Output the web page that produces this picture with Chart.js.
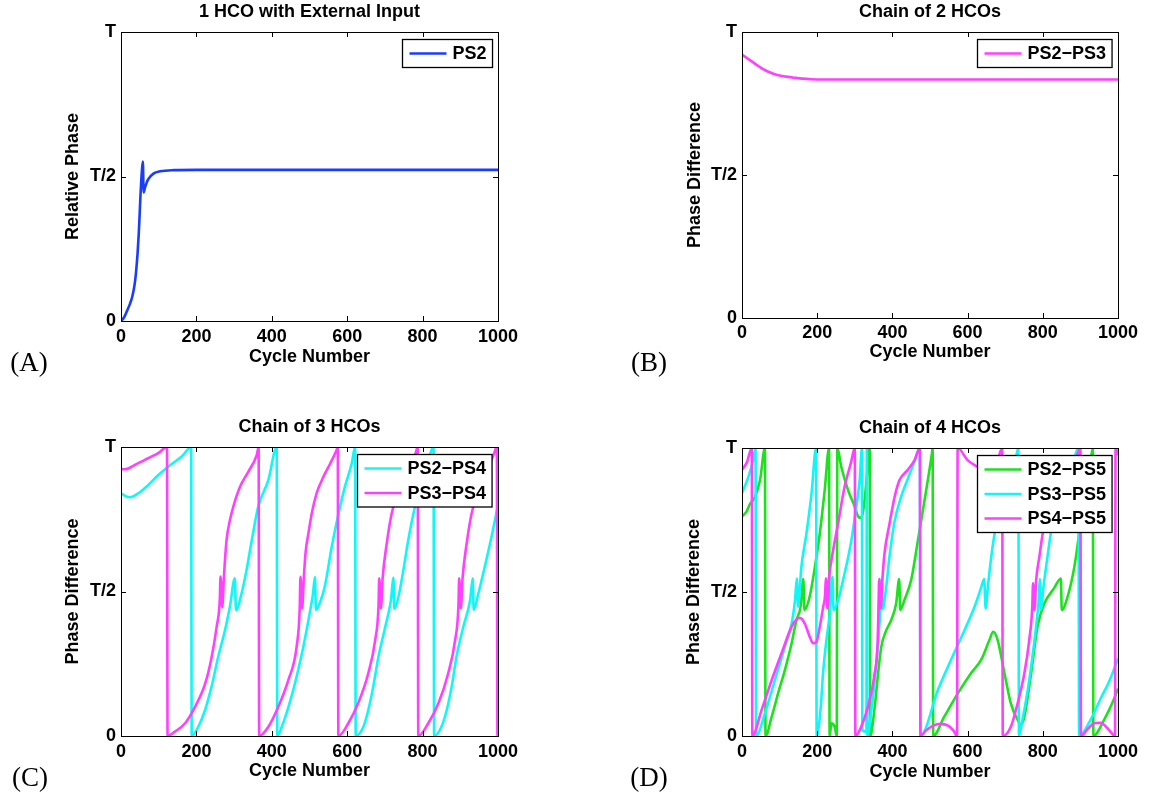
<!DOCTYPE html>
<html>
<head>
<meta charset="utf-8">
<script src="https://cdn.jsdelivr.net/npm/chart.js@4.4.1/dist/chart.umd.min.js"></script>
<style>
  body { margin: 0; background: #fff; width: 1153px; height: 794px; position: relative; overflow: hidden; }
  .panel { position: absolute; }
  .tag { position: absolute; font-family: "Liberation Serif", "DejaVu Serif", serif; font-size: 27px; line-height: 1; transform: translate(-50%, -50%); color: #000; }
</style>
</head>
<body>
<div class="panel" style="left:0;top:0;width:576px;height:397px"><canvas id="chA"></canvas></div>
<div class="panel" style="left:576px;top:0;width:577px;height:397px"><canvas id="chB"></canvas></div>
<div class="panel" style="left:0;top:397px;width:576px;height:397px"><canvas id="chC"></canvas></div>
<div class="panel" style="left:576px;top:397px;width:577px;height:397px"><canvas id="chD"></canvas></div>
<div class="tag" style="left:29px;top:362px">(A)</div>
<div class="tag" style="left:649px;top:362px">(B)</div>
<div class="tag" style="left:30px;top:777px">(C)</div>
<div class="tag" style="left:649px;top:777px">(D)</div>
<script>
// x = cycle number, y = phase as a fraction of the period T
const xTicks = [0, 200, 400, 600, 800, 1000];
const yTickVals = [0, 0.5, 1];
const yTickLabels = ['0', 'T/2', 'T'];

const aPS2 = [[0,0],[8,0.012],[16,0.035],[24,0.06],[30,0.085],[36,0.125],[40,0.17],[44,0.235],[47,0.3],[49.5,0.37],[51.5,0.43],[53.5,0.48],[55.5,0.52],[58,0.552],[60,0.445],[64,0.463],[72,0.49],[86,0.51],[104,0.518],[140,0.522],[200,0.523],[1000,0.523]];

const bPS2PS3 = [[0,0.921],[12,0.91],[24,0.899],[40,0.884],[55,0.871],[70,0.861],[85,0.853],[100,0.848],[122,0.843],[140,0.84],[161,0.837],[185,0.835],[210,0.834],[1000,0.834]];

const cPS2PS4 = [[0,0.84],[12,0.83],[24,0.826],[46,0.84],[72,0.868],[99,0.903],[125,0.932],[161,0.967],[186,0.999],[187.5,0],[205,0.032],[223,0.09],[240,0.17],[258,0.275],[276,0.367],[289,0.448],[302,0.546],[305,0.436],[320,0.494],[333,0.574],[347,0.678],[364,0.794],[391,0.886],[413,0.999],[414.5,0],[426,0.03],[444,0.1],[461,0.18],[479,0.28],[497,0.4],[509,0.49],[514.5,0.55],[517,0.437],[530,0.47],[541,0.52],[559,0.655],[577,0.77],[594,0.863],[612,0.943],[621,1],[622.5,0],[643,0.032],[656,0.09],[669,0.17],[683,0.275],[701,0.378],[716,0.47],[722.5,0.548],[725,0.44],[736,0.482],[749,0.574],[762,0.678],[780,0.794],[806,0.897],[829,1],[830.5,0],[850,0.032],[864,0.09],[877,0.17],[890,0.275],[908,0.378],[926,0.47],[933,0.546],[935.5,0.436],[948,0.494],[965,0.586],[983,0.69],[1000,0.8]];
const cPS3PS4 = [[0,0.923],[11,0.923],[37,0.938],[72,0.961],[100,0.98],[122,1],[123.5,0],[143,0.015],[170,0.044],[196,0.1],[223,0.18],[240,0.27],[254,0.38],[262,0.47],[264,0.552],[268.5,0.446],[273,0.552],[280,0.678],[289,0.747],[298,0.794],[316,0.863],[338,0.915],[360,0.972],[365,1],[366.5,0],[391,0.032],[417,0.1],[444,0.194],[466,0.31],[474,0.44],[476,0.551],[480.5,0.442],[485,0.55],[490,0.64],[497,0.7],[506,0.77],[519,0.84],[537,0.897],[555,0.943],[572,0.99],[575,1],[576.5,0],[603,0.044],[629,0.113],[656,0.217],[674,0.33],[683,0.448],[685,0.546],[689.5,0.442],[694,0.546],[705,0.667],[718,0.77],[736,0.851],[758,0.915],[780,0.972],[787,1],[788.5,0],[815,0.044],[842,0.113],[868,0.217],[886,0.33],[895,0.448],[897,0.546],[901.5,0.442],[906,0.546],[917,0.667],[930,0.77],[948,0.851],[970,0.915],[988,0.972],[997,1],[998.5,0],[1000,0.012]];

const dPS2PS5 = [[0,0.762],[12,0.779],[21,0.805],[34.5,0.83],[48,0.889],[61,1],[62.5,0],[79,0.067],[96,0.148],[114,0.229],[132,0.322],[145,0.403],[156,0.45],[163,0.545],[166,0.4375],[180,0.484],[194,0.588],[207,0.704],[220,0.854],[231.5,1],[233,0],[238,0.044],[246.5,0.032],[252,0],[253.5,1],[264,0.935],[282,0.854],[300,0.796],[310,0.76],[316,0.758],[322,0.779],[330.5,0.877],[339.5,1],[341,0],[353,0.102],[362,0.218],[370.5,0.31],[384,0.368],[397,0.403],[410,0.46],[418,0.545],[421,0.4375],[432,0.472],[450,0.542],[468,0.68],[490,0.854],[505,0.98],[507,1],[508.5,0],[538,0.067],[574,0.148],[609,0.218],[636,0.264],[658,0.333],[668,0.362],[680,0.333],[698,0.218],[715,0.113],[733,0.056],[742,0.04],[751,0.067],[769,0.218],[786,0.38],[804,0.46],[830,0.513],[848,0.547],[850.5,0.4375],[866,0.484],[884,0.588],[897,0.704],[912,0.83],[926,0.94],[933,1],[934.5,0],[963,0.056],[990,0.13],[1000,0.165]];
const dPS3PS5 = [[0,0.843],[17,0.9],[30,0.96],[36,1],[37.5,0],[61,0.079],[87.5,0.194],[114,0.31],[132,0.39],[141,0.472],[146,0.547],[149,0.449],[158,0.588],[171.5,0.704],[185,0.843],[197,1],[198.5,0],[209.5,0.102],[215.5,0.218],[224.5,0.333],[233.5,0.426],[240.5,0.553],[243.5,0.4375],[255.5,0.472],[273,0.565],[291,0.68],[304,0.796],[313,0.889],[319,1],[320,0.02],[331,0.015],[332,1],[333.5,0],[345,0.1],[355,0.22],[362,0.33],[368,0.44],[371,0.545],[374,0.44],[382,0.5],[392,0.62],[405,0.74],[423,0.83],[440,0.89],[458,0.95],[473,1],[474.5,0],[521,0.16],[556,0.265],[592,0.368],[618.5,0.449],[636,0.515],[644,0.545],[648,0.443],[654,0.52],[663,0.623],[672,0.704],[690,0.8],[710,0.88],[725,0.94],[735,1],[736.5,0],[745,0.05],[760,0.16],[772,0.27],[782,0.38],[789,0.47],[792,0.545],[795,0.44],[802,0.52],[812.5,0.623],[821.5,0.704],[840,0.8],[860,0.88],[880,0.95],[895,1],[896.5,0],[927,0.056],[954,0.13],[980,0.2],[1000,0.27]];
const dPS4PS5 = [[0,0.924],[13,0.95],[26,1],[27.5,0],[52,0.09],[79,0.194],[105,0.287],[132,0.38],[145,0.405],[154,0.41],[167,0.39],[180,0.345],[189,0.322],[198,0.327],[207,0.38],[216,0.449],[221,0.49],[223,0.548],[227,0.443],[231,0.542],[238,0.611],[255.5,0.738],[273,0.866],[290,0.95],[300,1],[301.5,0],[317,0.032],[335,0.102],[353,0.218],[361,0.333],[363,0.449],[365,0.545],[369,0.443],[373,0.536],[379,0.634],[392.5,0.738],[406,0.831],[419,0.889],[441,0.924],[459,0.958],[473,1],[474.5,0],[490,0.02],[510,0.037],[528,0.042],[548,0.036],[563,0.018],[572,0],[573.5,1],[600,0.958],[626,0.935],[645,0.92],[662,0.925],[678,0.95],[692,1],[693.5,0],[715,0.032],[733,0.113],[751,0.218],[764,0.333],[772,0.449],[774,0.53],[778,0.4375],[782,0.536],[791,0.623],[800,0.704],[820,0.8],[845,0.87],[870,0.92],[890,0.97],[900,1],[901.5,0],[920,0.025],[936,0.044],[954,0.046],[976,0.021],[992,0],[993.5,1],[1000,0.975]];

const BLUE = 'rgb(25,60,255)';
const MAGENTA = 'rgb(255,64,255)';
const CYAN = 'rgb(20,245,245)';
const GREEN = 'rgb(30,225,30)';

const FONT = '"Liberation Sans", Arial, sans-serif';
const FS = 18;
const LH = FS * 1.2;

Chart.defaults.color = '#000';
Chart.defaults.font.family = FONT;
Chart.defaults.font.size = FS;
Chart.defaults.font.weight = 'bold';

// box, inward ticks and a matlab-style legend
const framePlugin = {
  id: 'frame',
  afterDraw(chart) {
    const { ctx, chartArea: a, scales: { x, y } } = chart;
    ctx.save();
    ctx.strokeStyle = '#000';
    ctx.lineWidth = 1;
    ctx.strokeRect(Math.round(a.left) + 0.5, Math.round(a.top) + 0.5, Math.round(a.right - a.left), Math.round(a.bottom - a.top));
    ctx.beginPath();
    x.ticks.forEach(t => {
      const px = Math.round(x.getPixelForValue(t.value)) + 0.5;
      ctx.moveTo(px, a.bottom); ctx.lineTo(px, a.bottom - 5);
      ctx.moveTo(px, a.top); ctx.lineTo(px, a.top + 5);
    });
    y.ticks.forEach(t => {
      const py = Math.round(y.getPixelForValue(t.value)) + 0.5;
      ctx.moveTo(a.left, py); ctx.lineTo(a.left + 5, py);
      ctx.moveTo(a.right, py); ctx.lineTo(a.right - 5, py);
    });
    ctx.stroke();

    const sets = chart.data.datasets;
    ctx.font = 'bold ' + FS + 'px ' + FONT;
    const tw = Math.max(...sets.map(d => ctx.measureText(d.label).width));
    const w = 7 + 37 + 6 + tw + 6;
    const h = sets.length * 24.5 + 3.5;
    const x0 = Math.round(a.right - 6 - w) + 0.5;
    const y0 = Math.round(a.top + 7) + 0.5;
    ctx.fillStyle = '#fff';
    ctx.fillRect(x0, y0, w, h);
    ctx.lineWidth = 1.3;
    ctx.strokeRect(x0, y0, w, h);
    sets.forEach((d, i) => {
      const ly = y0 + 14 + i * 24.5;
      ctx.strokeStyle = d.borderColor;
      ctx.lineWidth = 2.6;
      ctx.beginPath();
      ctx.moveTo(x0 + 7, ly); ctx.lineTo(x0 + 44, ly);
      ctx.stroke();
      ctx.fillStyle = '#000';
      ctx.textBaseline = 'middle';
      ctx.textAlign = 'left';
      ctx.fillText(d.label, x0 + 50, ly + 1);
    });
    ctx.restore();
  }
};

function makePanel(id, g) {
  const n = g.series.length;
  const datasets = g.series.map((s, i) => ({
    label: s.label,
    data: s.data.map(p => ({ x: p[0], y: p[1] })),
    borderColor: s.color,
    borderWidth: 2.6,
    pointRadius: 0,
    cubicInterpolationMode: 'monotone',
    order: n - 1 - i
  }));
  new Chart(document.getElementById(id), {
    type: 'line',
    data: { datasets },
    options: {
      responsive: true,
      maintainAspectRatio: false,
      animation: false,
      layout: { padding: { left: 0, top: 0, right: g.w - g.right, bottom: g.h - (g.xTitleY + LH / 2) } },
      plugins: {
        legend: { display: false },
        tooltip: { enabled: false },
        title: {
          display: true,
          text: g.title,
          fullSize: false,
          font: { size: FS, weight: 'bold' },
          padding: { top: g.titleY - LH / 2, bottom: g.top - LH - (g.titleY - LH / 2) }
        }
      },
      scales: {
        x: {
          type: 'linear',
          min: 0, max: 1000,
          afterBuildTicks: s => { s.ticks = xTicks.map(v => ({ value: v })); },
          grid: { display: false, drawTicks: false },
          border: { display: false },
          ticks: { padding: g.xTickY - g.bottom - LH / 2, maxRotation: 0, callback: v => String(v) },
          title: { display: true, text: 'Cycle Number', padding: 0 },
          afterFit: s => { s.height = g.xTitleY + LH / 2 - g.bottom; }
        },
        y: {
          min: 0, max: 1,
          afterBuildTicks: s => { s.ticks = yTickVals.map(v => ({ value: v })); },
          grid: { display: false, drawTicks: false },
          border: { display: false },
          ticks: { padding: 5, callback: v => yTickLabels[yTickVals.indexOf(v)] },
          title: { display: true, text: g.yTitle, padding: { top: g.yTitleX - LH / 2, bottom: 0 } },
          afterFit: s => { s.width = g.left; }
        }
      }
    },
    plugins: [framePlugin]
  });
}

makePanel('chA', {
  w: 576, h: 397, left: 121, right: 498, top: 32, bottom: 321,
  titleY: 12, yTitleX: 73, xTickY: 337, xTitleY: 357,
  title: '1 HCO with External Input', yTitle: 'Relative Phase',
  series: [{ label: 'PS2', data: aPS2, color: BLUE }]
});
makePanel('chB', {
  w: 577, h: 397, left: 166, right: 542, top: 32, bottom: 318,
  titleY: 12, yTitleX: 119, xTickY: 333, xTitleY: 352,
  title: 'Chain of 2 HCOs', yTitle: 'Phase Difference',
  series: [{ label: 'PS2\u2212PS3', data: bPS2PS3, color: MAGENTA }]
});
makePanel('chC', {
  w: 576, h: 397, left: 121, right: 498, top: 50, bottom: 339,
  titleY: 30, yTitleX: 73, xTickY: 355, xTitleY: 374,
  title: 'Chain of 3 HCOs', yTitle: 'Phase Difference',
  series: [
    { label: 'PS2\u2212PS4', data: cPS2PS4, color: CYAN },
    { label: 'PS3\u2212PS4', data: cPS3PS4, color: MAGENTA }
  ]
});
makePanel('chD', {
  w: 577, h: 397, left: 166, right: 542, top: 51, bottom: 339,
  titleY: 31, yTitleX: 118, xTickY: 355, xTitleY: 375,
  title: 'Chain of 4 HCOs', yTitle: 'Phase Difference',
  series: [
    { label: 'PS2\u2212PS5', data: dPS2PS5, color: GREEN },
    { label: 'PS3\u2212PS5', data: dPS3PS5, color: CYAN },
    { label: 'PS4\u2212PS5', data: dPS4PS5, color: MAGENTA }
  ]
});
</script>
</body>
</html>
